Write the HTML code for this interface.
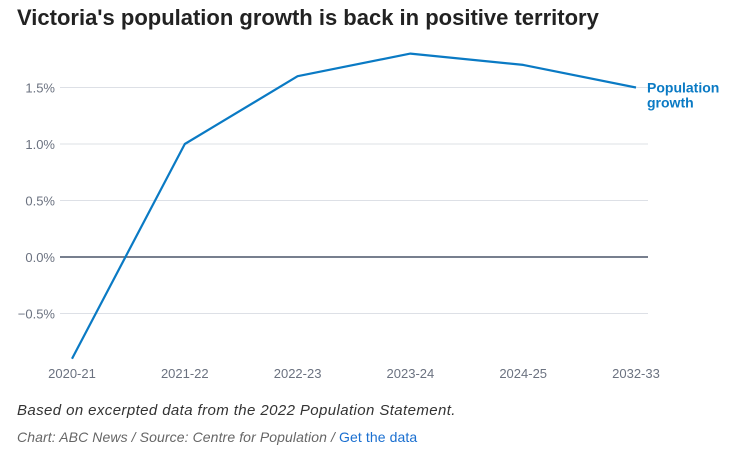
<!DOCTYPE html>
<html><head><meta charset="utf-8"><style>
body{margin:0;width:740px;height:468px;background:#fff;font-family:"Liberation Sans",sans-serif;overflow:hidden}
h1{position:absolute;left:17px;top:5px;margin:0;font-size:22px;font-weight:bold;color:#222;letter-spacing:0px}
.note{position:absolute;left:17px;font-size:15px;font-style:italic;color:#333;letter-spacing:0.4px}
</style></head><body>
<h1>Victoria's population growth is back in positive territory</h1>
<svg id="chart" width="740" height="400" style="position:absolute;left:0;top:0"></svg>
<div class="note" style="top:402px">Based on excerpted data from the 2022 Population Statement.</div>
<div class="note" style="top:429px;font-size:14px;color:#666;letter-spacing:0.1px">Chart: ABC News / Source: Centre for Population / <span style="color:#1a6fd0;font-style:normal">Get the data</span></div>
<script>
const categories=["2020-21","2021-22","2022-23","2023-24","2024-25","2032-33"];
const growthValues=[-0.9,1.0,1.6,1.8,1.7,1.5];
const yTicks=[-0.5,0,0.5,1.0,1.5];
const yTickLabels=["\u22120.5%","0.0%","0.5%","1.0%","1.5%"];
const svg=document.getElementById('chart');const NS='http://www.w3.org/2000/svg';
const x0=72,x1=636,xs=i=>x0+i*(x1-x0)/(categories.length-1);
const ys=v=>257-v*113;
function mk(t,a){const e=document.createElementNS(NS,t);for(const k in a)e.setAttribute(k,a[k]);svg.appendChild(e);return e;}
yTicks.forEach((v,i)=>{
 const l=mk('line',{x1:60,x2:648,y1:ys(v),y2:ys(v),stroke:v===0?'#4a5568':'#dde0e6','stroke-width':v===0?1.5:1});
 
 
 const t=mk('text',{x:55,y:ys(v)+5,'text-anchor':'end','font-size':13,fill:'#6b7280'});
 t.textContent=yTickLabels[i];
 
 
});
categories.forEach((c,i)=>{
 const t=mk('text',{x:xs(i),y:378,'text-anchor':'middle','font-size':13,fill:'#6b7280'});
 t.textContent=c;
 
 
});
const p=mk('polyline',{points:growthValues.map((v,i)=>xs(i)+','+ys(v)).join(' '),fill:'none',stroke:'#0a7ac4','stroke-width':2.2,'stroke-linejoin':'round'});


const last=growthValues.length-1;
['Population','growth'].forEach((s,i)=>{
 const t=mk('text',{x:647,y:ys(growthValues[last])+5+i*15,'font-size':14,'font-weight':'bold',fill:'#0a7ac4'});
 t.textContent=s;
 
 
});
</script>
</body></html>
